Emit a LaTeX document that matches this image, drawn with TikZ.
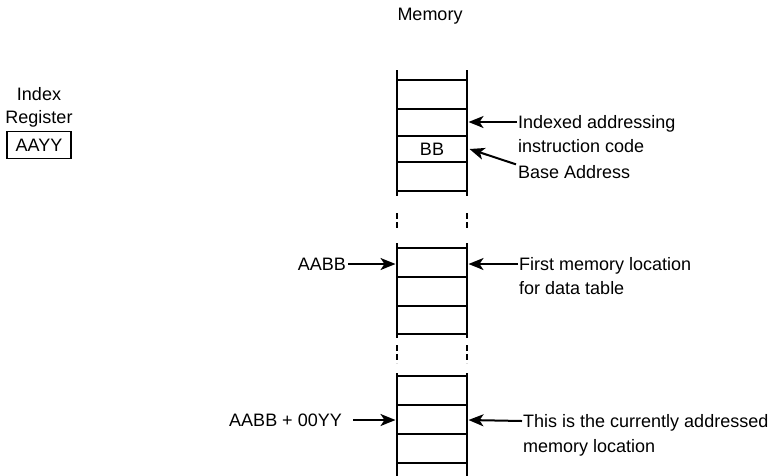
\documentclass[tikz,border=0pt]{standalone}
\usepackage{fontspec}
\setmainfont{Liberation Sans}
\usetikzlibrary{arrows.meta}
\begin{document}
\begin{tikzpicture}[x=1pt,y=-1pt,
  txt/.style={font=\fontsize{18}{24}\selectfont, inner sep=0pt, text height=12.9pt, text depth=0pt},
  lbl/.style={txt, anchor=west},
  wall/.style={line width=2.1pt},
  gap/.style={line width=2.1pt, dash pattern=on 6pt off 3pt},
  ptr/.style={line width=2pt, -{Stealth[length=15pt,width=12pt,inset=4pt]}},
  regbox/.style={txt, draw, line width=1.8pt, minimum width=64pt, minimum height=27pt}]
\useasboundingbox (0,0) rectangle (776,475);

% titles
\node[txt] (mem) at (430,14) {Memory};
\node[txt] (ix1) at (39,94) {Index};
\node[txt] (ix2) at (39,117) {Register};
\node[regbox] (reg) at (39,145) {AAYY};

% block 1
\draw[wall] (397,70) -- (397,196) (467,70) -- (467,196);
\foreach \yy in {80,109,136,162,191} \draw[wall] (397,\yy) -- (467,\yy);
\node[txt] (bb) at (432,149) {BB};
\draw[gap] (397,213) -- (397,231) (467,213) -- (467,231);

% block 2
\draw[wall] (397,243) -- (397,338) (467,243) -- (467,338);
\foreach \yy in {248,277,306,334} \draw[wall] (397,\yy) -- (467,\yy);
\draw[gap] (397,345) -- (397,363) (467,345) -- (467,363);

% block 3
\draw[wall] (397,373) -- (397,476) (467,373) -- (467,476);
\foreach \yy in {376,405,434,463} \draw[wall] (397,\yy) -- (467,\yy);

% target points on the memory column
\coordinate (rA) at (468.5,122);
\coordinate (rB) at (469.5,149);
\coordinate (rC) at (468.5,264);
\coordinate (lC) at (395.5,264);
\coordinate (rD) at (468.5,420);
\coordinate (lD) at (395.5,420);

% labels
\node[lbl] (ia1) at (518,122) {Indexed addressing};
\node[lbl] (ia2) at (518,146) {instruction code};
\node[lbl] (ba) at (518,172) {Base Address};
\node[lbl] (fm1) at (519,264) {First memory location};
\node[lbl] (fm2) at (519,288) {for data table};
\node[lbl] (cu1) at (523,421) {This is the currently addressed};
\node[lbl] (cu2) at (523,446) {memory location};
\node[txt, anchor=east] (aabb) at (346,264) {AABB};
\node[txt, anchor=east] (sum) at (342,420) {AABB + 00YY};

% connectors
\draw[ptr] ([xshift=-1pt]ia1.west) -- (rA);
\draw[ptr] ([xshift=-2pt,yshift=1pt]ba.north west) -- (rB);
\draw[ptr] ([xshift=-1pt]fm1.west) -- (rC);
\draw[ptr] ([xshift=-1pt]cu1.west) -- (rD);
\draw[ptr] ([xshift=2pt]aabb.east) -- (lC);
\draw[ptr] ([xshift=11pt]sum.east) -- (lD);
\end{tikzpicture}
\end{document}
